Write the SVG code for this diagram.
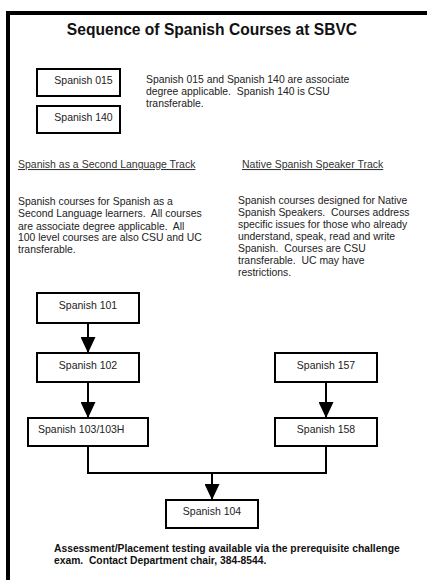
<svg xmlns="http://www.w3.org/2000/svg" width="427" height="580" viewBox="0 0 427 580" xml:space="preserve">
<style>
text{font-family:"Liberation Sans",Arial,sans-serif;fill:#222;white-space:pre}
.t{font-size:15.6px;font-weight:bold;fill:#111}
.b{font-size:10.5px}
.p{font-size:10.4px}
.h{font-size:10.5px;text-decoration:underline;fill:#333}
.f{font-size:10.3px;font-weight:bold;fill:#111}
.box{fill:#fff;stroke:#000;stroke-width:2}
.c{fill:none;stroke:#000;stroke-width:2}
</style>
<defs>
<marker id="ah" viewBox="0 0 16 15" refX="16" refY="7.5" markerWidth="16" markerHeight="15" markerUnits="userSpaceOnUse" orient="auto">
<path d="M0,0 L16,7.5 L0,15 Z" fill="#000"/>
</marker>
</defs>
<rect width="427" height="580" fill="#fff"/>
<path d="M8,580 V13 H427" fill="none" stroke="#000" stroke-width="4"/>
<text class="t" x="212" y="35" text-anchor="middle">Sequence of Spanish Courses at SBVC</text>
<g id="n015"><rect class="box" x="37" y="69" width="83" height="27"/><text class="b" x="83.5" y="84" text-anchor="middle">Spanish 015</text></g>
<g id="n140"><rect class="box" x="37" y="106" width="83" height="27"/><text class="b" x="83.5" y="121" text-anchor="middle">Spanish 140</text></g>
<text class="p"><tspan x="146" y="83">Spanish 015 and Spanish 140 are associate</tspan><tspan x="146" y="95">degree applicable.  Spanish 140 is CSU</tspan><tspan x="146" y="107">transferable.</tspan></text>
<text class="h" x="18" y="168">Spanish as a Second Language Track</text>
<text class="h" x="242" y="168">Native Spanish Speaker Track</text>
<text class="p"><tspan x="18" y="205">Spanish courses for Spanish as a</tspan><tspan x="18" y="217">Second Language learners.  All courses</tspan><tspan x="18" y="229.5">are associate degree applicable.  All</tspan><tspan x="18" y="241">100 level courses are also CSU and UC</tspan><tspan x="18" y="253">transferable.</tspan></text>
<text class="p"><tspan x="238" y="204">Spanish courses designed for Native</tspan><tspan x="238" y="216">Spanish Speakers.  Courses address</tspan><tspan x="238" y="228">specific issues for those who already</tspan><tspan x="238" y="240">understand, speak, read and write</tspan><tspan x="238" y="252">Spanish.  Courses are CSU</tspan><tspan x="238" y="264">transferable.  UC may have</tspan><tspan x="238" y="276">restrictions.</tspan></text>
<g id="connectors">
<path class="c" d="M88,323 V353" marker-end="url(#ah)"/>
<path class="c" d="M88,382 V418" marker-end="url(#ah)"/>
<path class="c" d="M326,382 V418" marker-end="url(#ah)"/>
<path class="c" d="M88,446 V473 H326 V446"/>
<path class="c" d="M212,473 V500" marker-end="url(#ah)"/>
</g>
<g id="n101"><rect class="box" x="37" y="293" width="102" height="30"/><text class="b" x="88" y="309" text-anchor="middle">Spanish 101</text></g>
<g id="n102"><rect class="box" x="37" y="353" width="102" height="29"/><text class="b" x="88" y="369" text-anchor="middle">Spanish 102</text></g>
<g id="n103"><rect class="box" x="28" y="418" width="120" height="28"/><text class="b" x="38" y="433">Spanish 103/103H</text></g>
<g id="n157"><rect class="box" x="275" y="353" width="102" height="29"/><text class="b" x="326" y="369" text-anchor="middle">Spanish 157</text></g>
<g id="n158"><rect class="box" x="275" y="418" width="102" height="28"/><text class="b" x="326" y="433" text-anchor="middle">Spanish 158</text></g>
<g id="n104"><rect class="box" x="166" y="500" width="92" height="28"/><text class="b" x="212" y="515" text-anchor="middle">Spanish 104</text></g>
<text class="f"><tspan x="54" y="551.5">Assessment/Placement testing available via the prerequisite challenge</tspan><tspan x="54" y="563.5">exam.  Contact Department chair, 384-8544.</tspan></text>
</svg>
